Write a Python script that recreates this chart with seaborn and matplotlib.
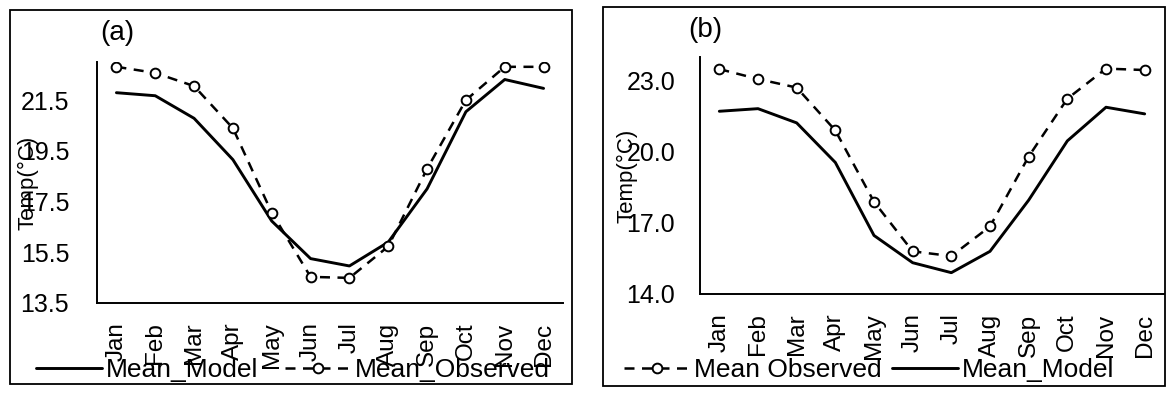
import matplotlib
matplotlib.use("Agg")
import matplotlib.pyplot as plt
import seaborn as sns
import pandas as pd
from matplotlib.patches import Rectangle

months = ["Jan", "Feb", "Mar", "Apr", "May", "Jun", "Jul", "Aug", "Sep", "Oct", "Nov", "Dec"]

# Panel (a)
model_a = [21.79, 21.67, 20.78, 19.15, 16.73, 15.25, 14.96, 15.90, 18.00, 21.04, 22.31, 21.96]
obs_a = [22.81, 22.57, 22.05, 20.39, 17.06, 14.53, 14.49, 15.73, 18.79, 21.50, 22.81, 22.81]
yticks_a = [13.5, 15.5, 17.5, 19.5, 21.5]

# Panel (b)
model_b = [21.71, 21.82, 21.22, 19.55, 16.47, 15.32, 14.90, 15.80, 17.96, 20.46, 21.88, 21.60]
obs_b = [23.49, 23.07, 22.71, 20.90, 17.89, 15.80, 15.60, 16.85, 19.80, 22.24, 23.51, 23.45]
yticks_b = [14.0, 17.0, 20.0, 23.0]

sns.set_style("white")
plt.rcParams["font.family"] = ["Liberation Sans", "DejaVu Sans"]
plt.rcParams.update({"text.color": "black", "axes.labelcolor": "black",
                     "xtick.color": "black", "ytick.color": "black"})

W, H = 1174, 399
fig = plt.figure(figsize=(W / 100, H / 100), dpi=100)


def box(x0, y0, x1, y1):
    return [x0 / W, 1 - y1 / H, (x1 - x0) / W, (y1 - y0) / H]


# outer frames
for (x0, y0, x1, y1) in [(10, 10, 572, 384), (603, 7, 1165, 386)]:
    fig.patches.append(Rectangle((x0 / W, 1 - y1 / H), (x1 - x0) / W, (y1 - y0) / H,
                                 transform=fig.transFigure, fill=False,
                                 edgecolor="black", linewidth=1.3))

ax1 = fig.add_axes(box(97, 62, 563, 303))
ax2 = fig.add_axes(box(700, 57, 1164, 294))

obs_kw = dict(color="black", linestyle=(0, (4, 3)), linewidth=1.8, marker="o",
              markersize=7, markerfacecolor="white", markeredgecolor="black",
              markeredgewidth=1.4)
mod_kw = dict(color="black", linestyle="-", linewidth=2.1)


def draw(ax, model, obs, order):
    df = pd.DataFrame({"Month": months, "Model": model, "Obs": obs})
    handles = {}
    sns.lineplot(data=df, x="Month", y="Model", ax=ax, sort=False, **mod_kw)
    handles["model"] = ax.lines[-1]
    sns.lineplot(data=df, x="Month", y="Obs", ax=ax, sort=False, **obs_kw)
    handles["obs"] = ax.lines[-1]
    return [handles[k] for k in order]


h1 = draw(ax1, model_a, obs_a, ["model", "obs"])
h2 = draw(ax2, model_b, obs_b, ["obs", "model"])

for ax, yt, ylim, pad, lpad in [(ax1, yticks_a, (13.5, 23.0), 14, -13),
                                (ax2, yticks_b, (14.0, 24.0), 12, -8)]:
    ax.set_xlim(-0.5, 11.5)
    ax.set_ylim(*ylim)
    ax.set_yticks(yt)
    ax.set_yticklabels([f"{v:.1f}" for v in yt], fontsize=18)
    ax.set_xticks(range(12))
    ax.set_xticklabels(months, rotation=90, fontsize=17.5)
    ax.tick_params(axis="x", length=0, pad=14)
    ax.tick_params(axis="y", length=6, width=1.2, direction="out", pad=pad)
    for s in ["top", "right"]:
        ax.spines[s].set_visible(False)
    for s in ["left", "bottom"]:
        ax.spines[s].set_color("black")
        ax.spines[s].set_linewidth(1.4)
    ax.set_xlabel("")
    ax.set_ylabel("Temp(°C)", fontsize=16, labelpad=lpad)

fig.text(100 / W, 1 - 33 / H, "(a)", fontsize=20, va="center", ha="left")
fig.text(688 / W, 1 - 30 / H, "(b)", fontsize=20, va="center", ha="left")

leg_kw = dict(ncol=2, frameon=False, fontsize=19, handlelength=2.5,
              handletextpad=0.15, borderaxespad=0, borderpad=0,
              loc="center left")
fig.legend(h1, ["Mean_Model", "Mean_Observed"], bbox_to_anchor=(36 / W, 1 - 370 / H),
           columnspacing=1.0, **leg_kw)
fig.legend(h2, ["Mean Observed", "Mean_Model"], bbox_to_anchor=(624 / W, 1 - 370 / H),
           columnspacing=0.4, **leg_kw)

fig.savefig("out.png", dpi=100)
